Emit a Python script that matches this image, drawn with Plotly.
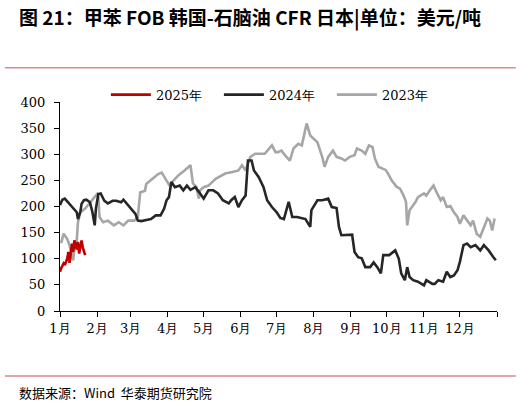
import pandas as pd
import plotly.graph_objects as go

# month-day of each observation, values in USD/t
dates_2025 = ["01-01", "01-02", "01-04", "01-05", "01-07", "01-08", "01-09", "01-11",
              "01-12", "01-13", "01-15", "01-16", "01-17", "01-19", "01-20", "01-22"]
vals_2025 = [75, 82, 91, 88, 100, 113, 92, 129, 113, 135, 118, 132, 110, 135, 122, 107]

dates_2024 = ["01-01", "01-03", "01-05", "01-07", "01-09", "01-12", "01-15", "01-16", "01-18", "01-19",
              "01-21", "01-23", "01-26", "01-28", "01-29", "01-30", "01-31", "02-02", "02-04", "02-07",
              "02-10", "02-14", "02-17", "02-21", "02-23", "02-26", "03-02", "03-05", "03-07", "03-10",
              "03-14", "03-18", "03-22", "03-26", "03-29", "03-31", "04-02", "04-04", "04-07", "04-11",
              "04-14", "04-17", "04-20", "04-24", "04-27", "05-01", "05-05", "05-09", "05-13", "05-17",
              "05-22", "05-24", "05-27", "05-30", "06-02", "06-05", "06-07", "06-10", "06-12", "06-16",
              "06-20", "06-23", "06-27", "07-01", "07-04", "07-07", "07-11", "07-14", "07-18", "07-22",
              "07-25", "07-29", "07-30", "08-04", "08-08", "08-13", "08-16", "08-20", "08-22", "08-24",
              "08-29", "09-02", "09-04", "09-07", "09-10", "09-13", "09-17", "09-20", "09-23", "09-26",
              "09-28", "10-03", "10-08", "10-11", "10-13", "10-16", "10-18", "10-20", "10-23", "10-27",
              "11-01", "11-03", "11-08", "11-10", "11-13", "11-17", "11-20", "11-23", "11-26", "11-29",
              "12-01", "12-04", "12-07", "12-10", "12-14", "12-18", "12-21", "12-25", "12-29", "12-31"]
vals_2024 = [203, 213, 215, 210, 205, 198, 189, 176, 190, 205,
             212, 213, 208, 190, 180, 164, 196, 224, 225, 211,
             206, 211, 211, 208, 213, 205, 194, 186, 173, 172,
             174, 176, 183, 183, 196, 212, 218, 247, 237, 240,
             231, 240, 232, 237, 228, 215, 231, 231, 225, 212,
             206, 212, 218, 199, 212, 221, 288, 288, 269, 256,
             237, 212, 199, 189, 178, 176, 209, 180, 180, 177,
             176, 161, 193, 212, 212, 215, 199, 197, 161, 145,
             145, 146, 113, 103, 101, 84, 84, 93, 84, 72,
             107, 107, 116, 100, 72, 59, 84, 65, 59, 56,
             49, 59, 52, 52, 59, 56, 75, 65, 68, 78,
             94, 126, 129, 122, 126, 116, 126, 116, 103, 97]

dates_2023 = ["01-02", "01-04", "01-07", "01-09", "01-11", "01-12", "01-13", "01-15", "01-16", "01-18",
              "01-22", "01-27", "02-01", "02-02", "02-03", "02-06", "02-10", "02-15", "02-19", "02-23",
              "02-27", "03-04", "03-07", "03-09", "03-13", "03-14", "03-19", "03-24", "03-27", "03-30",
              "04-02", "04-04", "04-10", "04-15", "04-20", "04-22", "04-25", "04-27", "04-28", "05-01",
              "05-05", "05-11", "05-16", "05-19", "05-25", "05-30", "06-02", "06-05", "06-09", "06-13",
              "06-17", "06-21", "06-27", "06-30", "07-02", "07-05", "07-08", "07-12", "07-15", "07-19",
              "07-22", "07-26", "07-29", "08-01", "08-04", "08-08", "08-10", "08-13", "08-17", "08-20",
              "08-24", "08-27", "08-31", "09-04", "09-06", "09-10", "09-13", "09-16", "09-19", "09-21",
              "09-24", "09-27", "09-30", "10-02", "10-05", "10-09", "10-12", "10-15", "10-17", "10-18",
              "10-20", "10-25", "10-27", "11-01", "11-03", "11-06", "11-09", "11-12", "11-15", "11-17",
              "11-20", "11-23", "11-26", "11-29", "12-01", "12-04", "12-07", "12-10", "12-12", "12-15",
              "12-18", "12-21", "12-24", "12-26", "12-28", "12-30"]
vals_2023 = [130, 148, 138, 126, 103, 97, 119, 135, 170, 189,
             196, 211, 224, 218, 180, 170, 173, 164, 170, 164,
             173, 173, 180, 227, 230, 243, 253, 262, 265, 252,
             242, 245, 260, 269, 279, 244, 237, 215, 231, 237,
             240, 253, 260, 263, 266, 269, 279, 269, 295, 301,
             301, 301, 317, 304, 304, 307, 298, 288, 311, 320,
             317, 359, 336, 330, 323, 295, 276, 295, 307, 295,
             292, 288, 295, 298, 311, 307, 301, 317, 314, 292,
             276, 273, 270, 263, 250, 238, 234, 221, 209, 164,
             193, 209, 218, 225, 221, 231, 240, 225, 212, 218,
             199, 201, 189, 180, 167, 183, 173, 164, 173, 148,
             142, 158, 177, 173, 154, 177]

month_labels = ["1月", "2月", "3月", "4月", "5月", "6月", "7月", "8月", "9月", "10月", "11月", "12月"]

SERIF = "DejaVu Serif"


def to_dt(md):
    # plot all years on one common (non-leap) calendar
    return pd.to_datetime(["2001-" + d for d in md])


series = [
    ("2025年", dates_2025, vals_2025, "#C00000"),
    ("2024年", dates_2024, vals_2024, "#262626"),
    ("2023年", dates_2023, vals_2023, "#A6A6A6"),
]

fig = go.Figure()
# draw older years first so 2025 sits on top, keep legend order
for i, (name, md, vals, color) in enumerate(reversed(series)):
    fig.add_trace(go.Scatter(
        x=to_dt(md), y=vals, name=name, mode="lines",
        line=dict(color=color, width=2.6),
        legendrank=3 - i,
    ))

tick_vals = list(pd.date_range("2001-01-01", "2002-01-01", freq="MS"))

fig.update_layout(
    width=521, height=405,
    margin=dict(l=60, r=24, t=102, b=94),
    paper_bgcolor="white", plot_bgcolor="white",
    font=dict(family=SERIF, size=13, color="black"),
    showlegend=True,
    legend=dict(
        orientation="h", x=0.105, y=1.035, xanchor="left", yanchor="middle",
        font=dict(family=SERIF, size=13),
        entrywidth=58, entrywidthmode="pixels",
        bgcolor="rgba(0,0,0,0)", traceorder="normal",
        itemwidth=40,
    ),
    xaxis=dict(
        type="date", range=["2001-01-01", "2002-01-01"],
        tickmode="array", tickvals=tick_vals, ticktext=month_labels + [""],
        showgrid=False, zeroline=False,
        showline=True, linecolor="black", linewidth=1,
        ticks="outside", ticklen=5, tickcolor="black",
        tickfont=dict(family=SERIF, size=13),
    ),
    yaxis=dict(
        range=[0, 400], dtick=50, tick0=0,
        showgrid=False, zeroline=False,
        showline=True, linecolor="black", linewidth=1,
        ticks="outside", ticklen=5, tickcolor="black",
        ticklabelstandoff=6,
        tickfont=dict(family=SERIF, size=13),
    ),
)

# title, source and the two red rules
fig.add_annotation(
    text="<b>图 21：甲苯 FOB 韩国-石脑油 CFR 日本|单位：美元/吨</b>",
    xref="paper", yref="paper", x=-0.098, y=1.407, xanchor="left", yanchor="middle",
    showarrow=False, font=dict(family="Noto Sans CJK SC", size=19, color="black"),
)
fig.add_annotation(
    text="数据来源：Wind  华泰期货研究院",
    xref="paper", yref="paper", x=-0.098, y=-0.388, xanchor="left", yanchor="middle",
    showarrow=False, font=dict(family="Noto Sans CJK SC", size=13, color="black"),
)
for yy in [1.164, -0.311]:
    fig.add_shape(type="line", xref="paper", yref="paper",
                  x0=-0.126, x1=1.043, y0=yy, y1=yy,
                  line=dict(color="#D98A8C", width=1.5))

fig.write_html("out.html", config={"displayModeBar": False},
               post_script="document.body.style.margin='0';")
